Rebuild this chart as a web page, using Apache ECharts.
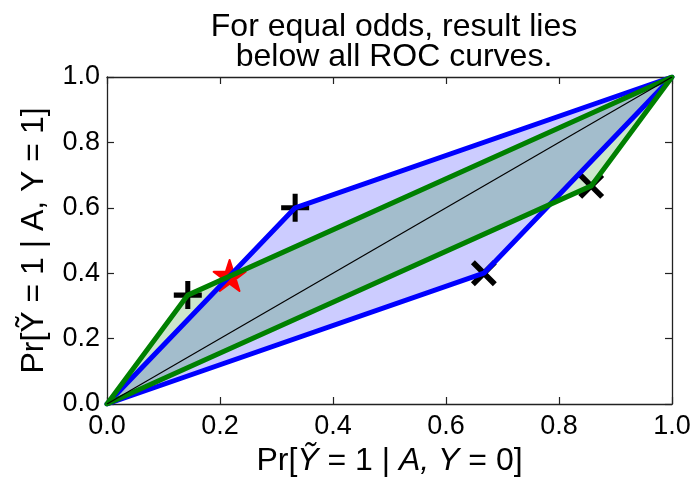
<!DOCTYPE html>
<html>
<head>
<meta charset="utf-8">
<script src="https://cdn.jsdelivr.net/npm/echarts@6/dist/echarts.min.js"></script>
<style>html,body{margin:0;padding:0;background:#fff;}#c{width:694px;height:485px;}</style>
</head>
<body>
<div id="c"></div>
<script>
// ---- data ----
const titleLines = ['For equal odds, result lies', 'below all ROC curves.'];
const xTicks = [0, 0.2, 0.4, 0.6, 0.8, 1.0];
const yTicks = [0, 0.2, 0.4, 0.6, 0.8, 1.0];
const blueRoc = [[0, 0], [0.333, 0.6], [1, 1], [0.667, 0.4]];
const greenRoc = [[0, 0], [0.143, 0.333], [1, 1], [0.857, 0.667]];
const diagonal = [[0, 0], [1, 1]];
const plusPoints = [[0.143, 0.333], [0.333, 0.6]];
const crossPoints = [[0.667, 0.4], [0.857, 0.667]];
const starPoints = [[0.217, 0.39]];

const FONT = '"Liberation Sans", Arial, Helvetica, sans-serif';
const PLUS = 'path://M-0.9,-5 L0.9,-5 L0.9,-0.9 L5,-0.9 L5,0.9 L0.9,0.9 L0.9,5 L-0.9,5 L-0.9,0.9 L-5,0.9 L-5,-0.9 L-0.9,-0.9 Z';
const STAR = 'path://M0,-10 L2.245,-3.09 L9.511,-3.09 L3.633,1.18 L5.878,8.09 L0,3.82 L-5.878,8.09 L-3.633,1.18 L-9.511,-3.09 L-2.245,-3.09 Z';

function polygonSeries(pts, fill) {
  return {
    type: 'custom', coordinateSystem: 'cartesian2d', silent: true,
    data: [pts[0]],
    renderItem: (params, api) => ({
      type: 'polygon',
      shape: { points: pts.map(p => api.coord(p)) },
      style: { fill: fill, stroke: null }
    })
  };
}
function closed(pts) { return pts.concat([pts[0]]); }

const axisCommon = {
  type: 'value', min: 0, max: 1, interval: 0.2,
  axisLine: { show: true, onZero: false, lineStyle: { color: '#222', width: 1.3 } },
  axisTick: { show: true, inside: true, length: 7, lineStyle: { color: '#222', width: 1.2 } },
  splitLine: { show: false }
};

const chart = echarts.init(document.getElementById('c'), null, { renderer: 'canvas' });
chart.setOption({
  animation: false,
  backgroundColor: '#fff',
  title: {
    text: titleLines.join('\n'),
    left: 389, top: 7, textAlign: 'center',
    textStyle: { fontFamily: FONT, fontSize: 32, fontWeight: 'normal', color: '#000', lineHeight: 30 }
  },
  grid: { left: 107, right: 22, top: 77, bottom: 81, containLabel: false },
  xAxis: [
    Object.assign({}, axisCommon, {
      position: 'bottom',
      axisLabel: { show: true, margin: 9, fontFamily: FONT, fontSize: 27, color: '#000',
        showMinLabel: true, showMaxLabel: true, formatter: v => v.toFixed(1) },
      name: '{n|Pr[}{i|Ỹ}{n| = 1 | }{i|A, Y}{n| = 0]}',
      nameLocation: 'middle', nameGap: 40,
      nameTextStyle: { fontFamily: FONT, fontSize: 32, color: '#000',
        rich: { n: { fontFamily: FONT, fontSize: 32, color: '#000' },
                i: { fontFamily: FONT, fontSize: 32, color: '#000', fontStyle: 'italic' } } }
    }),
    Object.assign({}, axisCommon, { position: 'top', axisLabel: { show: false } })
  ],
  yAxis: [
    Object.assign({}, axisCommon, {
      position: 'left',
      axisLabel: { show: true, margin: 7, fontFamily: FONT, fontSize: 27, color: '#000',
        showMinLabel: true, showMaxLabel: true, formatter: v => v.toFixed(1) },
      name: 'Pr[Ỹ = 1 | A, Y = 1]',
      nameLocation: 'middle', nameGap: 57, nameRotate: 90,
      nameTextStyle: { fontFamily: FONT, fontSize: 32, color: '#000' }
    }),
    Object.assign({}, axisCommon, { position: 'right', axisLabel: { show: false } })
  ],
  series: [
    polygonSeries(blueRoc, 'rgba(0,0,255,0.2)'),
    polygonSeries(greenRoc, 'rgba(0,128,0,0.2)'),
    { type: 'line', data: closed(blueRoc), showSymbol: false, silent: true,
      lineStyle: { color: '#0000ff', width: 5, join: 'round', cap: 'round' } },
    { type: 'line', data: closed(greenRoc), showSymbol: false, silent: true,
      lineStyle: { color: '#008000', width: 5, join: 'round', cap: 'round' } },
    { type: 'line', data: diagonal, showSymbol: false, silent: true,
      lineStyle: { color: '#000', width: 1.2 } },
    { type: 'scatter', data: plusPoints, symbol: PLUS, symbolSize: 28, silent: true,
      itemStyle: { color: '#000', opacity: 1 } },
    { type: 'scatter', data: crossPoints, symbol: PLUS, symbolSize: 31, symbolRotate: 45, silent: true,
      itemStyle: { color: '#000', opacity: 1 } },
    { type: 'scatter', data: starPoints, symbol: STAR, symbolSize: [32, 31], symbolOffset: [0, -1], silent: true,
      itemStyle: { color: '#ff0000', opacity: 1, borderColor: '#ff0000', borderWidth: 2, borderJoin: 'round' } }
  ]
});
</script>
</body>
</html>
